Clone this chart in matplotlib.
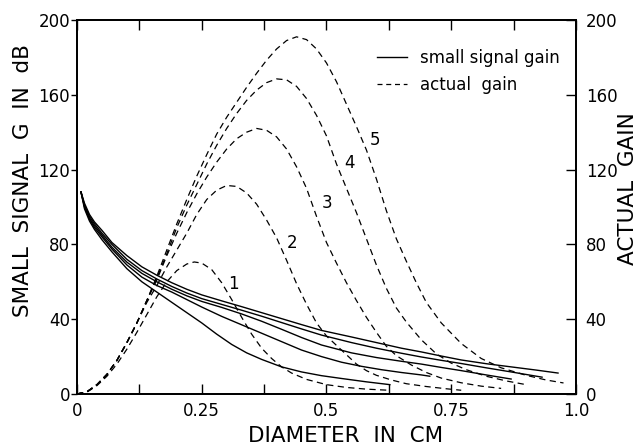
import matplotlib
matplotlib.use("Agg")
import matplotlib.pyplot as plt
from matplotlib.lines import Line2D

plt.rcParams['font.family'] = ['DejaVu Sans']

# small signal gain (solid, left axis), curves 1..5
ss_x = [
    [0.008, 0.015, 0.025, 0.035, 0.05, 0.07, 0.1, 0.13, 0.16, 0.19, 0.22, 0.25, 0.28, 0.31,
     0.34, 0.37, 0.41, 0.45, 0.49, 0.53, 0.58, 0.627],
    [0.008, 0.015, 0.025, 0.035, 0.05, 0.07, 0.1, 0.13, 0.16, 0.19, 0.22, 0.25, 0.29, 0.33,
     0.37, 0.41, 0.45, 0.49, 0.53, 0.57, 0.61, 0.65, 0.69, 0.707],
    [0.008, 0.015, 0.025, 0.035, 0.05, 0.07, 0.1, 0.13, 0.16, 0.19, 0.22, 0.25, 0.29, 0.33,
     0.37, 0.41, 0.45, 0.49, 0.55, 0.6, 0.65, 0.69, 0.73, 0.77, 0.82, 0.87],
    [0.008, 0.015, 0.025, 0.035, 0.05, 0.07, 0.1, 0.13, 0.16, 0.19, 0.22, 0.25, 0.29, 0.33,
     0.37, 0.41, 0.45, 0.49, 0.55, 0.6, 0.65, 0.69, 0.73, 0.77, 0.82, 0.87, 0.932],
    [0.008, 0.015, 0.025, 0.035, 0.05, 0.07, 0.1, 0.13, 0.16, 0.19, 0.22, 0.25, 0.29, 0.33,
     0.37, 0.41, 0.45, 0.49, 0.55, 0.6, 0.65, 0.69, 0.73, 0.77, 0.82, 0.87, 0.92, 0.964],
]
ss_y = [
    [108, 99, 92.5, 88, 82.5, 76, 67, 60, 54.5, 49, 43.5, 38, 32, 26.5,
     22, 18.5, 14.5, 11.8, 9.8, 8.3, 6.5, 5],
    [108, 100, 93.5, 89, 84, 77.5, 69, 62.5, 58, 54.5, 50.5, 46.5, 41.5, 37,
     32.5, 28, 23.5, 20, 17, 14.8, 13, 11.5, 10.2, 9.5],
    [108, 100.5, 94, 90, 85, 78.5, 70.5, 64.5, 60, 56, 52.5, 49.5, 46.3, 42.8,
     38.9, 34.6, 30.2, 26.2, 22, 19.5, 17.5, 16, 14.2, 12.5, 10.2, 8],
    [108, 101, 95, 91, 86, 80, 72, 66, 61.5, 57.5, 54, 51, 47.9, 44.8,
     41.6, 38.2, 34.8, 31.5, 27.5, 24.5, 21.8, 19.8, 18, 16.3, 14, 11.8, 9],
    [108, 102, 96, 92, 87.5, 81, 74, 68, 63.5, 59.5, 56, 53, 49.8, 46.7,
     43.5, 40.3, 37.1, 34, 30.5, 27.5, 24.5, 22.5, 20.3, 18.2, 16.2, 14.5, 12.8, 11.2],
]

# actual gain (dashed, right axis), curves 1..5
ag_x = [
    [0, 0.02, 0.04, 0.06, 0.08, 0.1, 0.12, 0.14, 0.16, 0.18, 0.2, 0.22, 0.235, 0.25, 0.27,
     0.29, 0.31, 0.33, 0.35, 0.37, 0.39, 0.41, 0.43, 0.46, 0.5, 0.54, 0.58, 0.625],
    [0, 0.02, 0.04, 0.06, 0.08, 0.1, 0.12, 0.14, 0.16, 0.18, 0.2, 0.22, 0.24, 0.26, 0.28,
     0.3, 0.32, 0.34, 0.36, 0.38, 0.4, 0.42, 0.44, 0.46, 0.48, 0.5, 0.52, 0.54, 0.56, 0.58,
     0.6, 0.63, 0.66, 0.7, 0.74, 0.77],
    [0, 0.02, 0.04, 0.06, 0.08, 0.1, 0.12, 0.14, 0.16, 0.18, 0.2, 0.22, 0.24, 0.26, 0.28,
     0.3, 0.32, 0.34, 0.36, 0.38, 0.4, 0.42, 0.44, 0.46, 0.48, 0.5, 0.52, 0.54, 0.56, 0.58,
     0.6, 0.62, 0.64, 0.67, 0.7, 0.73, 0.77, 0.81, 0.85],
    [0, 0.02, 0.04, 0.06, 0.08, 0.1, 0.12, 0.14, 0.16, 0.18, 0.2, 0.22, 0.24, 0.26, 0.28,
     0.3, 0.32, 0.34, 0.36, 0.38, 0.4, 0.42, 0.44, 0.46, 0.48, 0.5, 0.52, 0.54, 0.56, 0.58,
     0.6, 0.62, 0.64, 0.66, 0.69, 0.72, 0.75, 0.78, 0.82, 0.86, 0.9],
    [0, 0.02, 0.04, 0.06, 0.08, 0.1, 0.12, 0.14, 0.16, 0.18, 0.2, 0.22, 0.24, 0.26, 0.28,
     0.3, 0.32, 0.34, 0.36, 0.38, 0.4, 0.42, 0.44, 0.46, 0.48, 0.5, 0.52, 0.54, 0.56, 0.58,
     0.6, 0.62, 0.64, 0.66, 0.68, 0.7, 0.73, 0.77, 0.81, 0.85, 0.9, 0.94, 0.975],
]
ag_y = [
    [0, 1, 4.5, 9.5, 16, 24, 33, 42.5, 52, 60, 66, 69.5, 70.6, 70, 66.5,
     59.5, 50.5, 41, 32, 24.5, 19, 14.5, 11.2, 7.8, 5, 3.5, 2.6, 2],
    [0, 1.2, 5, 10.5, 18, 27.5, 38, 49, 58, 68, 77, 86, 96, 104, 109,
     111.5, 111, 107.5, 101.5, 93, 83.5, 71.5, 59, 48, 38, 31, 26, 21, 16, 12.5,
     10, 7.5, 5.5, 4, 2.8, 2],
    [0, 1.2, 5, 10.5, 18, 27.5, 38, 50, 61, 74, 86, 97, 107, 116, 124,
     131, 136.5, 140, 142, 141, 137.5, 131, 121.5, 110, 95, 81, 70, 59.5, 50, 41,
     33, 25.5, 20.5, 15.5, 11.5, 8.5, 6, 4.2, 3],
    [0, 1.2, 5, 10.5, 18, 27.5, 38, 50, 62, 75, 89, 101, 112, 123, 133,
     142, 150, 157, 162.5, 166.5, 168.5, 168, 164.5, 158, 149, 138, 123, 110, 97, 83,
     69, 56.5, 46, 38.5, 29, 21.5, 16.5, 13, 9.5, 7, 5],
    [0, 1.2, 5, 10.5, 18, 27.5, 38, 50, 63, 77, 91, 104, 116.5, 128, 139,
     148, 156, 164, 171.5, 178.5, 184.5, 189, 191, 189.5, 184.5, 177, 167, 155, 143, 130.5,
     115, 98, 83, 71, 59.5, 49, 38, 27, 19, 14, 10, 7.5, 5.9],
]

curve_labels = ['1', '2', '3', '4', '5']
label_pos = [(0.313, 59), (0.431, 81), (0.501, 102), (0.547, 123.5), (0.597, 136)]

xticks = [0, 0.25, 0.5, 0.75, 1.0]
xtick_labels = ['0', '0.25', '0.5', '0.75', '1.0']
yticks = [0, 40, 80, 120, 160, 200]

fig = plt.figure(figsize=(6.39, 4.46), dpi=100)
ax = fig.add_axes([0.1205, 0.1166, 0.7809, 0.8386])
ax2 = ax.twinx()

dash = (5, 3.5)
for i in range(5):
    ax.plot(ss_x[i], ss_y[i], '-', color='black', lw=1.0)
    ax2.plot(ag_x[i], ag_y[i], '--', color='black', lw=0.9, dashes=dash)
    ax.text(label_pos[i][0], label_pos[i][1], curve_labels[i], fontsize=12,
            ha='center', va='center')

ax.set_xlim(0, 1.0)
ax.set_ylim(0, 200)
ax2.set_ylim(0, 200)

ax.set_xticks(xticks)
ax.set_xticklabels(xtick_labels)
ax.set_xticks([0.125, 0.375, 0.625, 0.875], minor=True)
ax.tick_params(axis='x', which='both', direction='in', top=True, length=7,
               width=1, labelsize=12, pad=6)
ax.set_yticks(yticks)
ax.tick_params(axis='y', direction='out', length=4, width=1, labelsize=12, pad=1)
ax2.set_yticks(yticks)
ax2.tick_params(axis='y', direction='in', length=7, width=1, labelsize=12, pad=7)

for a in (ax, ax2):
    for s in a.spines.values():
        s.set_linewidth(1.3)

fig.text(23 / 639, 1 - 181 / 446, 'SMALL  SIGNAL  G  IN  dB', rotation=90,
         ha='center', va='center', fontsize=15.5)
fig.text(628 / 639, 1 - 189 / 446, 'ACTUAL  GAIN', rotation=90,
         ha='center', va='center', fontsize=15.5)
fig.text(346 / 639, 1 - 436 / 446, 'DIAMETER  IN  CM',
         ha='center', va='center', fontsize=15.5)

handles = [Line2D([], [], color='black', lw=1.0),
           Line2D([], [], color='black', lw=0.9, ls='--', dashes=(4, 3))]
ax.legend(handles, ['small signal gain', 'actual  gain'], loc='upper left',
          bbox_to_anchor=(0.601, 0.922), frameon=False, fontsize=12,
          handlelength=1.8, handletextpad=0.8, labelspacing=0.55,
          borderpad=0, borderaxespad=0)

fig.savefig('out.png', dpi=100)
